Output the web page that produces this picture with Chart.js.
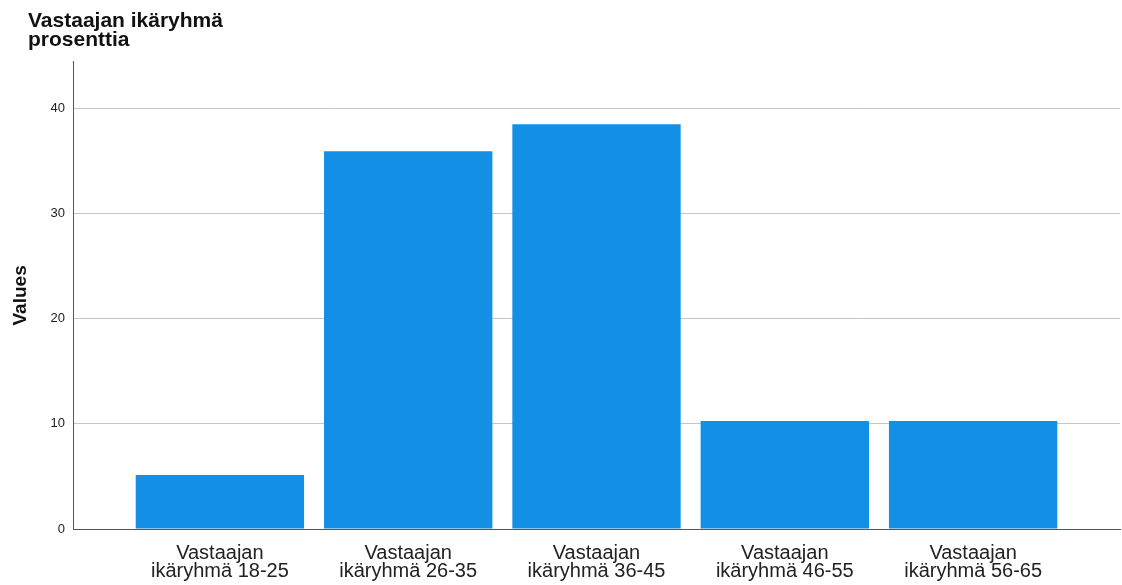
<!DOCTYPE html>
<html>
<head>
<meta charset="utf-8">
<script src="https://cdn.jsdelivr.net/npm/chart.js@4/dist/chart.umd.min.js"></script>
<style>
  html, body { margin: 0; padding: 0; background: #fff; }
  #wrap { width: 1122px; height: 585px; }
</style>
</head>
<body>
<div id="wrap"><canvas id="age-chart"></canvas></div>
<script>
// Age group shares (%)
const categories = [
    'Vastaajan ikäryhmä 18-25',
    'Vastaajan ikäryhmä 26-35',
    'Vastaajan ikäryhmä 36-45',
    'Vastaajan ikäryhmä 46-55',
    'Vastaajan ikäryhmä 56-65'
];
const percentages = [5.13, 35.9, 38.46, 10.26, 10.26];
const yTicks = [0, 10, 20, 30, 40];

const font = '"Liberation Sans", Arial, sans-serif';

function splitLabel(label) {
    // "Vastaajan" on the first line, the rest below
    const i = label.indexOf(' ');
    return [label.slice(0, i), label.slice(i + 1)];
}

const ctx = document.getElementById('age-chart').getContext('2d');

new Chart(ctx, {
    type: 'bar',
    data: {
        datasets: [{
            label: 'prosenttia',
            data: percentages.map((v, i) => ({ x: i, y: v })),
            backgroundColor: '#148fe6',
            borderWidth: 0,
            categoryPercentage: 1,
            barPercentage: 0.894
        }]
    },
    options: {
        responsive: true,
        maintainAspectRatio: false,
        animation: false,
        layout: {
            padding: { left: 28, right: 2, top: 0, bottom: 0 }
        },
        plugins: {
            legend: { display: false },
            tooltip: { enabled: false },
            title: {
                display: true,
                text: ['Vastaajan ikäryhmä', 'prosenttia'],
                align: 'start',
                color: '#111',
                font: { family: font, size: 21, weight: 'bold', lineHeight: 0.9 },
                padding: { top: 12, bottom: 12 }
            }
        },
        scales: {
            x: {
                type: 'linear',
                offset: false,
                min: -0.78,
                max: 4.78,
                afterBuildTicks: (scale) => {
                    scale.ticks = categories.map((_, i) => ({ value: i }));
                },
                afterFit: (scale) => { scale.height = 56; },
                grid: { display: false, drawTicks: false },
                border: { display: true, color: '#555', width: 1 },
                ticks: {
                    autoSkip: false,
                    maxRotation: 0,
                    padding: 15,
                    color: '#222',
                    font: { family: font, size: 20, lineHeight: 0.92 },
                    callback: (value) => splitLabel(categories[value])
                }
            },
            y: {
                min: 0,
                max: 44.4,
                afterBuildTicks: (scale) => {
                    scale.ticks = yTicks.map(v => ({ value: v }));
                },
                afterFit: (scale) => { scale.width = 45; },
                grid: { color: '#c6c6c6', lineWidth: 1, drawTicks: false },
                border: { display: true, color: '#555', width: 1 },
                ticks: {
                    padding: 8,
                    color: '#222',
                    font: { family: font, size: 13 }
                },
                title: {
                    display: true,
                    text: 'Values',
                    color: '#111',
                    padding: { top: -19, bottom: 0 },
                    font: { family: font, size: 19, weight: 'bold' }
                }
            }
        }
    }
});
</script>
</body>
</html>
